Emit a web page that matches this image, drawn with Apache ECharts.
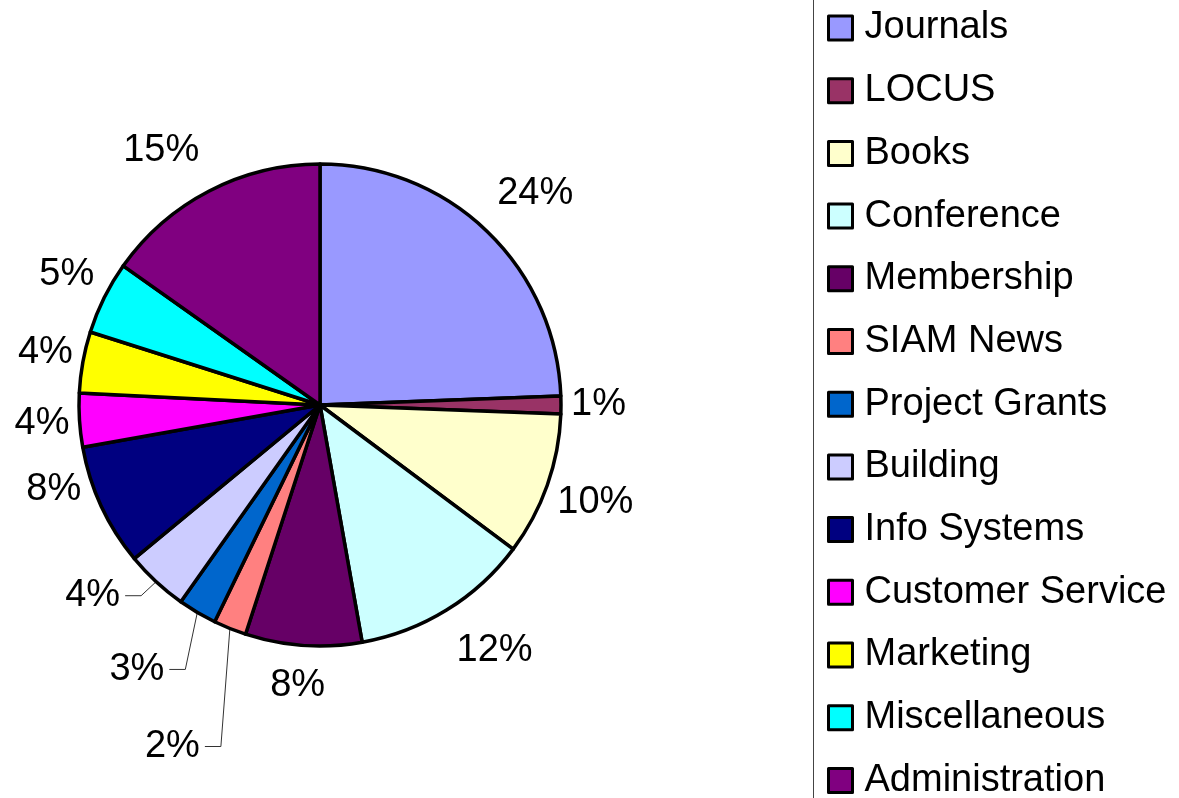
<!DOCTYPE html>
<html>
<head>
<meta charset="utf-8">
<script src="https://cdn.jsdelivr.net/npm/echarts@6/dist/echarts.min.js"></script>
<style>
  html, body { margin: 0; padding: 0; background: #fff; }
  #main { width: 1179px; height: 798px; }
</style>
</head>
<body>
<div id="main"></div>
<script>
var categories = ['Journals', 'LOCUS', 'Books', 'Conference', 'Membership', 'SIAM News', 'Project Grants',
                  'Building', 'Info Systems', 'Customer Service', 'Marketing', 'Miscellaneous', 'Administration'];
var shares = [24.4, 1.2, 9.6, 12.0, 7.8, 2.2, 2.6, 4.2, 8.2, 3.6, 4.1, 4.9, 15.2];
var colors = ['#9999ff', '#993366', '#ffffcc', '#ccffff', '#660066', '#ff8080', '#0066cc',
              '#ccccff', '#000080', '#ff00ff', '#ffff00', '#00ffff', '#800080'];

var font = '"Liberation Sans", Arial, sans-serif';
var cx = 320, cy = 405, R = 241;
// labels pulled away from the pie with a leader line: elbow offset from the rim
var dragged = { 'SIAM News': [-9, 118], 'Project Grants': [-12, 57], 'Building': [-15, 14] };
// labels shifted by hand in the original
var nudged = { 'Info Systems': [-10, -39] };

var total = shares.reduce(function (s, v) { return s + v; }, 0);

function clamp(v) { return Math.max(-1, Math.min(1, v)); }

function placeLabel(p) {
    var i = p.dataIndex;
    var before = 0;
    for (var j = 0; j < i; j++) before += shares[j];
    var a = (before + shares[i] / 2) / total * 2 * Math.PI;
    var dx = Math.sin(a), dy = -Math.cos(a);
    var x1 = cx + R * dx, y1 = cy + R * dy;
    var name = categories[i];
    var off = dragged[name];
    if (off) {
        var x2 = x1 + off[0], y2 = y1 + off[1], x3 = x2 - 16;
        return { x: x3 - 5, y: y2, align: 'right', verticalAlign: 'middle',
                 labelLinePoints: [[x1, y1], [x2, y2], [x3, y2]] };
    }
    var w = p.labelRect.width;
    var tx = x1 + (w / 2 + 10) * clamp(2.2 * dx);
    var ty = y1 + 40 * clamp(1.3 * dy);
    if (nudged[name]) { tx += nudged[name][0]; ty += nudged[name][1]; }
    return { x: tx, y: ty, align: 'center', verticalAlign: 'middle' };
}

var chart = echarts.init(document.getElementById('main'));
chart.setOption({
    backgroundColor: '#fff',
    animation: false,
    graphic: [{
        type: 'line',
        shape: { x1: 813.5, y1: 0, x2: 813.5, y2: 798 },
        style: { stroke: '#444', lineWidth: 1 }
    }],
    legend: {
        orient: 'vertical',
        left: 813,
        top: -12,
        height: 840,
        padding: [20, 0, 20, 14],
        itemWidth: 24,
        itemHeight: 24,
        itemGap: 22.7,
        icon: 'rect',
        selectedMode: false,
        itemStyle: { borderColor: '#000', borderWidth: 3 },
        textStyle: { fontSize: 38, fontFamily: font, color: '#000', lineHeight: 40, padding: [0, 0, 0, 7] },
        data: categories
    },
    series: [{
        type: 'pie',
        center: [cx, cy],
        radius: R,
        startAngle: 90,
        clockwise: true,
        avoidLabelOverlap: false,
        silent: true,
        itemStyle: { borderColor: '#000', borderWidth: 3.5 },
        label: {
            show: true,
            position: 'outside',
            fontSize: 38,
            fontFamily: font,
            color: '#000',
            formatter: function (p) { return Math.round(p.percent) + '%'; }
        },
        labelLine: { show: true, lineStyle: { color: '#333', width: 1 } },
        labelLayout: placeLabel,
        data: categories.map(function (name, i) {
            return {
                name: name,
                value: shares[i],
                itemStyle: { color: colors[i] },
                labelLine: { show: !!dragged[name] }
            };
        })
    }]
});
</script>
</body>
</html>
